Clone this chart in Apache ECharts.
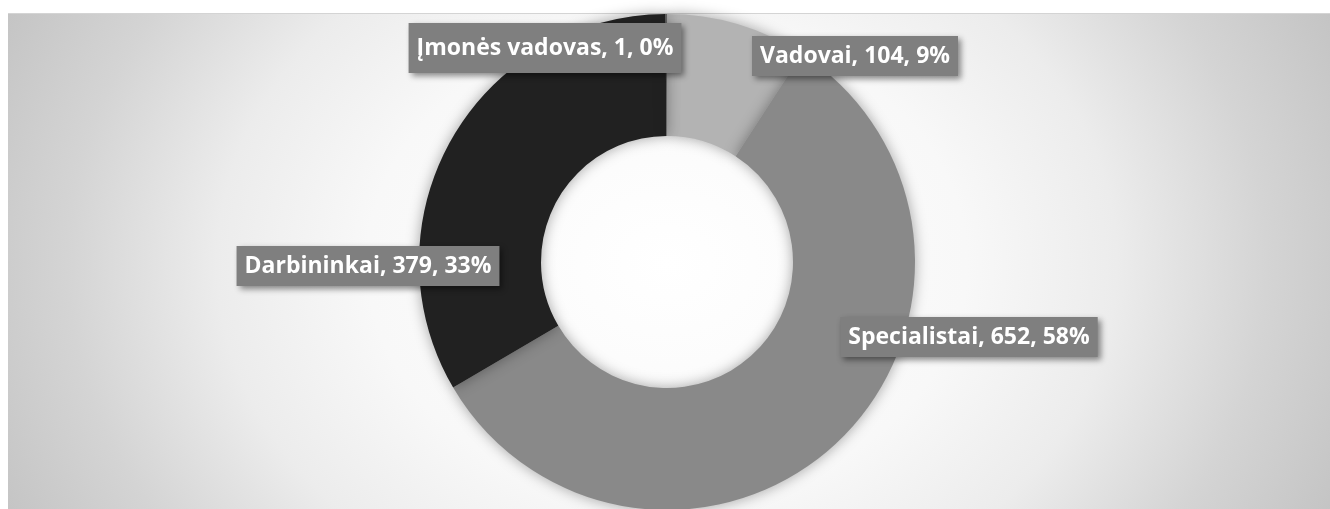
<!DOCTYPE html>
<html>
<head>
<meta charset="utf-8">
<script src="https://cdn.jsdelivr.net/npm/echarts@6/dist/echarts.min.js"></script>
<style>
  html, body { margin: 0; padding: 0; background: #ffffff; }
  #wrap { position: relative; width: 1330px; height: 509px; }
  #plotbg {
    position: absolute; left: 8px; top: 13px; width: 1322px; height: 496px;
    border-top: 1px solid #d4d4d4; box-sizing: border-box;
    background: radial-gradient(ellipse 750px 600px at 659px 249px,
      #ffffff 0%, #f8f8f8 40%, #ececec 60%, #d4d4d4 80%, #c2c2c2 100%);
  }
  #chart { position: absolute; left: 0; top: 0; width: 1330px; height: 509px; }
</style>
</head>
<body>
<div id="wrap">
  <div id="plotbg"></div>
  <div id="chart"></div>
</div>
<script>
// Employee groups and headcounts
const categories = ['Vadovai', 'Specialistai', 'Darbininkai', 'Įmonės vadovas'];
const counts = [104, 652, 379, 1];
const sliceColors = ['#b3b3b3', '#898989', '#212121', '#5e5e5e'];

// Label box centres (px) and vertical padding per label
const labelCenters = [[855, 56], [969, 337], [368, 266], [545, 48]];
const labelPadY = [8, 8, 8, 13];

const chart = echarts.init(document.getElementById('chart'));

const data = categories.map((name, i) => ({
  name: name,
  value: counts[i],
  itemStyle: { color: sliceColors[i] },
  label: { padding: [labelPadY[i], 8, labelPadY[i], 8] }
}));

chart.setOption({
  animation: false,
  series: [
    {
      type: 'pie',
      center: [667, 262],
      radius: [126, 248],
      startAngle: 90,
      clockwise: true,
      avoidLabelOverlap: false,
      percentPrecision: 0,
      itemStyle: {
        borderWidth: 0,
        shadowBlur: 14,
        shadowColor: 'rgba(0,0,0,0.35)'
      },
      label: {
        show: true,
        position: 'outside',
        formatter: '{b}, {c}, {d}%',
        color: '#ffffff',
        fontFamily: 'Open Sans',
        fontWeight: 'bold',
        fontSize: 23,
        lineHeight: 24,
        backgroundColor: '#7f7f7f',
        shadowBlur: 6,
        shadowOffsetX: 3,
        shadowOffsetY: 3,
        shadowColor: 'rgba(0,0,0,0.45)'
      },
      labelLine: { show: false },
      emphasis: { disabled: true },
      labelLayout: function (params) {
        const c = labelCenters[params.dataIndex];
        return { x: c[0], y: c[1], align: 'center', verticalAlign: 'middle' };
      },
      data: data
    }
  ]
});
</script>
</body>
</html>
